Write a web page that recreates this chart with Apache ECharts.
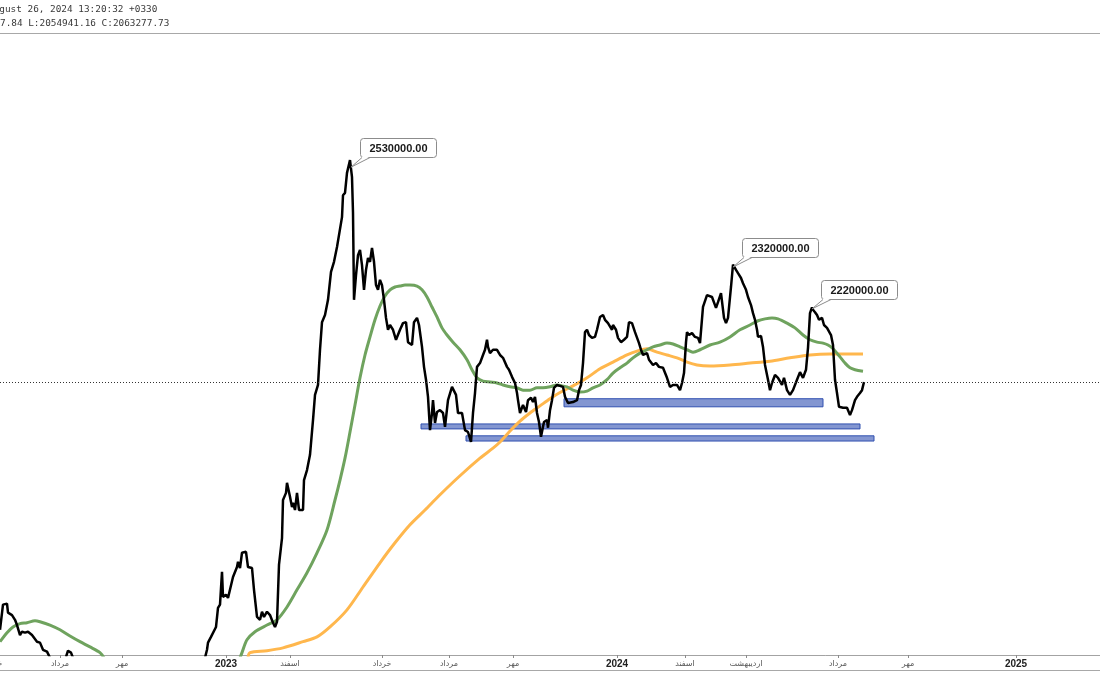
<!DOCTYPE html>
<html>
<head>
<meta charset="utf-8">
<script src="https://cdn.jsdelivr.net/npm/echarts@6.0.0/dist/echarts.min.js"></script>
<style>
html,body{margin:0;padding:0;background:#fff;}
#chart{width:1100px;height:700px;}
</style>
</head>
<body>
<div id="chart"></div>
<script>
// x = session index (bar), y = index value
const closeData = [
[0,1542000],[1.5,1595000],[3.5,1597000],[4,1578000],[6,1573000],[7.5,1563000],[8.5,1552000],[10,1531000],[11,1538000],[12.5,1536000],[14,1538000],[16,1531000],[18.5,1517000],[20,1515000],[21.5,1500000],[23.5,1496000],[24.5,1492000],[25.5,1479000],
[29,null],
[33,1485000],[34,1498000],[35.5,1494000],[36.5,1483000],
[60,null],
[102.5,1483000],[103.5,1500000],[104,1515000],[105.5,1527000],[106.5,1523000],[108,1548000],[109,1588000],[110,1595000],[111,1664000],[111.5,1611000],[113,1616000],[114,1609000],[115,1605000],[116.5,1653000],[118.5,1674000],[119,1685000],[120,1672000],[121,1704000],[123,1706000],[124,1674000],[126,1672000],[127,1626000],[128.5,1569000],[130,1563000],[131,1580000],[132,1569000],[133.5,1580000],[135,1573000],[136.5,1557000],[137.5,1548000],[138.5,1559000],[139.5,1679000],[141,1735000],[141.5,1815000],[143,1830000],[143.5,1851000],[145,1822000],[146,1800000],[146.5,1809000],[147.5,1794000],[148.5,1830000],[149.5,1794000],[151.5,1794000],[152,1857000],[153.5,1878000],[155,1910000],[156.5,1983000],[157.5,2036000],[159,2057000],[160,2131000],[161,2189000],[162.5,2204000],[164,2236000],[165.5,2295000],[167,2316000],[168.5,2347000],[169.5,2351000],[171,2410000],[171.5,2456000],[172.5,2461000],[173.5,2503000],[174,2505000],[175,2530000],[176,2494000],[176.5,2419000],[177,2236000],[178,2288000],[179,2330000],[180,2341000],[181,2309000],[182,2257000],[183,2299000],[184,2324000],[185,2316000],[186,2345000],[187,2316000],[188,2267000],[189,2257000],[190,2278000],[191,2267000],[192,2236000],[193,2198000],[194,2173000],[195,2183000],[196.5,2173000],[198,2152000],[199,2156000],[200,2173000],[201.5,2187000],[203,2189000],[204,2147000],[206,2141000],[207,2189000],[208.5,2198000],[209.5,2183000],[211,2137000],[212,2095000],[213,2068000],[214,2032000],[215,1962000],[216,1998000],[216.5,2025000],[217.5,1977000],[218.5,2000000],[220,2004000],[221.5,1998000],[222.5,1969000],[224,2025000],[226,2053000],[226.5,2051000],[228,2036000],[229,1998000],[231,1998000],[232.5,1962000],[234,1958000],[235.5,1937000],[236.5,1998000],[237.5,2040000],[238.5,2095000],[240,2103000],[241.5,2120000],[242.5,2131000],[243.5,2152000],[244,2137000],[245,2124000],[246.5,2131000],[248.5,2131000],[250,2120000],[251.5,2114000],[253.5,2095000],[254.5,2089000],[256,2074000],[257.5,2061000],[258.5,2040000],[259,2025000],[260,1998000],[261.5,2015000],[263,2000000],[264,2025000],[265.5,2030000],[266.5,2021000],[267.5,2032000],[268.5,1998000],[269.5,1979000],[270.5,1948000],[271.5,1969000],[272,1979000],[273.5,1983000],[274,1967000],[275,2004000],[276,2025000],[277,2051000],[278.5,2057000],[280,2055000],[281.5,2053000],[282.5,2032000],[284,2019000],[286.5,2021000],[288.5,2025000],[289.5,2046000],[290.5,2057000],[291.5,2103000],[292.5,2168000],[293.5,2173000],[294.5,2162000],[296,2156000],[297.5,2158000],[298.5,2173000],[300,2200000],[301.5,2204000],[302.5,2194000],[304,2187000],[306,2173000],[306.5,2183000],[308,2173000],[309,2156000],[310.5,2147000],[312,2152000],[313.5,2158000],[314.5,2189000],[316,2187000],[317.5,2168000],[318.5,2168000],[319.5,2145000],[320.5,2131000],[321.5,2120000],[323.5,2124000],[324.5,2110000],[326.5,2099000],[328,2103000],[329.5,2095000],[331.5,2093000],[333.5,2072000],[335,2053000],[336.5,2057000],[338.5,2057000],[340,2046000],[341,2061000],[342,2082000],[343,2147000],[343.5,2168000],[344.5,2162000],[346,2166000],[347.5,2158000],[349,2156000],[350,2145000],[351.5,2221000],[353.5,2246000],[354.5,2250000],[356,2242000],[357,2246000],[358,2219000],[359,2231000],[360.5,2250000],[361.5,2252000],[362,2198000],[363,2187000],[364,2198000],[365.5,2263000],[366.5,2310000],[368,2299000],[369,2292000],[370.5,2282000],[371.5,2271000],[373,2257000],[374,2242000],[375.5,2225000],[376.5,2208000],[377.5,2194000],[378.5,2173000],[379,2158000],[380.5,2160000],[381.5,2137000],[382.5,2099000],[384,2068000],[385,2046000],[386,2061000],[387.5,2078000],[389,2072000],[390,2068000],[391,2057000],[392,2072000],[393.5,2046000],[395,2036000],[396.5,2046000],[398.5,2068000],[400,2084000],[401.5,2072000],[403,2089000],[404,2135000],[405,2208000],[406,2220000],[406.5,2215000],[407.5,2210000],[408.5,2204000],[409.5,2194000],[411,2198000],[412,2183000],[413.5,2177000],[414,2173000],[415.5,2162000],[416.5,2141000],[417.5,2068000],[418.5,2040000],[419.5,2011000],[421.5,2009000],[423.5,2009000],[425,1994000],[426,2004000],[427.5,2025000],[428.5,2032000],[430,2040000],[431,2046000],[432,2063277.73]
];

const maFastData = [
[0,1517000],[3.5,1536000],[6.5,1548000],[10,1555000],[13.5,1557000],[17.5,1561000],[20,1559000],[25,1552000],[30,1542000],[35,1529000],[40,1517000],[45,1506000],[50,1494000],[52,1483000],
[80,null],
[120,1483000],[121,1494000],[123.5,1521000],[127.5,1538000],[133.5,1552000],[138.5,1563000],[143.5,1590000],[148.5,1626000],[153.5,1662000],[158.5,1704000],[163.5,1752000],[167.5,1815000],[170,1857000],[172.5,1903000],[175,1958000],[177.5,2015000],[180,2072000],[182.5,2120000],[185,2158000],[187.5,2194000],[190,2223000],[192.5,2244000],[195,2257000],[197.5,2263000],[200,2265000],[202.5,2267000],[205,2267000],[208.5,2265000],[211,2257000],[213.5,2242000],[216,2221000],[218.5,2200000],[221,2177000],[223.5,2162000],[226.5,2147000],[230,2131000],[233.5,2110000],[236,2089000],[238.5,2072000],[241.5,2065000],[245,2063000],[248.5,2061000],[251.5,2057000],[255,2053000],[258.5,2051000],[261.5,2046000],[265,2046000],[268.5,2051000],[271.5,2051000],[275,2053000],[278.5,2057000],[281,2055000],[283.5,2053000],[286.5,2046000],[290,2042000],[293.5,2044000],[296.5,2051000],[300,2057000],[303.5,2068000],[306.5,2082000],[310,2093000],[313.5,2103000],[316.5,2114000],[320,2124000],[323.5,2131000],[326.5,2137000],[330,2141000],[333.5,2145000],[336.5,2143000],[340,2137000],[343.5,2131000],[346.5,2126000],[350,2131000],[355,2141000],[360,2147000],[365,2158000],[370,2173000],[375,2183000],[379,2192000],[382.5,2196000],[386,2198000],[389,2196000],[393.5,2187000],[397.5,2177000],[401.5,2162000],[405,2152000],[408.5,2147000],[411.5,2145000],[414,2141000],[416.5,2133000],[420,2116000],[422.5,2103000],[425,2093000],[427.5,2089000],[431.5,2086000]
];

const maSlowData = [
[124,1483000],[125,1494000],[133.5,1498000],[141.5,1504000],[151.5,1517000],[158.5,1527000],[165,1548000],[173.5,1584000],[181.5,1632000],[190,1683000],[197.5,1725000],[205,1763000],[212.5,1794000],[220,1826000],[230,1866000],[240,1903000],[246.5,1924000],[250,1937000],[255,1960000],[260,1981000],[265,1998000],[270,2013000],[275,2028000],[280,2041000],[286.5,2055000],[293.5,2072000],[300,2091000],[306.5,2105000],[313.5,2120000],[318.5,2128000],[323.5,2133000],[328.5,2126000],[333.5,2120000],[338.5,2114000],[343.5,2105000],[348.5,2099000],[355,2097000],[365,2099000],[375,2103000],[385,2107000],[395,2114000],[405,2120000],[415,2122000],[425,2122000],[431.5,2122000]
];

// support zones
const zoneStart = [282, 210.5, 233];
const zoneEnd   = [411.5, 430, 437];
const zoneLow   = [2011000, 1964500, 1939000];
const zoneHigh  = [2028000, 1975000, 1950000];

// price notes
const noteBar   = [175.5, 366.5, 406];
const noteValue = [2515000, 2305000, 2217000];
const noteText  = ['2530000.00', '2320000.00', '2220000.00'];

const lastClose = 2063277.73;

// x axis ticks
const tickBars  = [30, 61, 113, 145, 191, 224.5, 256.5, 308.5, 342.5, 373, 419, 454, 508];
const tickTexts = ['مرداد','مهر','2023','اسفند','خرداد','مرداد','مهر','2024','اسفند','اردیبهشت','مرداد','مهر','2025'];

const headerLine1 = 'August 26, 2024 13:20:32 +0330';
const headerLine2 = '7.84 L:2054941.16 C:2063277.73';

const chart = echarts.init(document.getElementById('chart'), null, {renderer: 'canvas'});

const option = {
  animation: false,
  backgroundColor: '#ffffff',
  grid: {left: 0, right: 0, top: 35, bottom: 45, containLabel: false},
  xAxis: {
    type: 'value', min: 0, max: 550,
    splitLine: {show: false},
    axisLine: {show: true, onZero: false, lineStyle: {color: '#a3a3a3', width: 1}},
    axisTick: {show: true, customValues: tickBars, length: 3, lineStyle: {color: '#8a8a8a'}},
    axisLabel: {
      show: true, customValues: tickBars, margin: 3,
      formatter: function (v) {
        const i = tickBars.indexOf(v);
        if (i < 0) return '';
        const t = tickTexts[i];
        return /^\d+$/.test(t) ? '{y|' + t + '}' : '{m|' + t + '}';
      },
      rich: {
        y: {fontFamily: '"Liberation Sans", Arial, sans-serif', fontWeight: 'bold', fontSize: 10, color: '#222', lineHeight: 12},
        m: {fontFamily: '"DejaVu Sans", sans-serif', fontSize: 8, color: '#555', lineHeight: 12}
      }
    }
  },
  yAxis: {type: 'value', min: 1489000, max: 2793000, show: false, splitLine: {show: false}},
  series: [
    {
      name: 'MA slow', type: 'line', data: maSlowData, showSymbol: false, z: 2, smooth: 0.3,
      lineStyle: {color: '#ffb74d', width: 3}, silent: true, clip: true
    },
    {
      name: 'MA fast', type: 'line', data: maFastData, showSymbol: false, z: 3, smooth: 0.3,
      lineStyle: {color: '#6fa35e', width: 3}, silent: true, clip: true,
      markArea: {
        silent: true,
        itemStyle: {color: 'rgba(96,120,196,0.78)', borderColor: '#3150b0', borderWidth: 1},
        data: zoneStart.map((s, i) => [{xAxis: s, yAxis: zoneLow[i]}, {xAxis: zoneEnd[i], yAxis: zoneHigh[i]}])
      }
    },
    {
      name: 'Close', type: 'line', data: closeData, showSymbol: false, z: 4,
      connectNulls: false, clip: true, silent: true,
      lineStyle: {color: '#000000', width: 2.5},
      markLine: {
        silent: true, symbol: ['none', 'none'],
        label: {show: false},
        lineStyle: {color: '#333', width: 1, type: [1, 2]},
        data: [{yAxis: lastClose}]
      }
    },
    {
      name: 'notes', type: 'custom', z: 10, silent: true, clip: false,
      data: noteBar.map((b, i) => [b, noteValue[i]]),
      renderItem: function (params, api) {
        const p = api.coord([api.value(0), api.value(1)]);
        const w = 76, h = 19;
        const bx = Math.round(p[0] + 9), by = Math.round(p[1] - 10 - h);
        const t = noteText[params.dataIndex];
        return {
          type: 'group',
          children: [
            {type: 'rect', shape: {x: bx + 0.5, y: by + 0.5, width: w, height: h, r: 3},
             style: {fill: '#ffffff', stroke: '#8c8c8c', lineWidth: 1}},
            {type: 'polygon', shape: {points: [[p[0], p[1]], [bx + 2, by + h - 0.5], [bx + 10, by + h - 0.5]]},
             style: {fill: '#ffffff', stroke: null}},
            {type: 'polyline', shape: {points: [[bx + 2, by + h + 0.5], [p[0], p[1]], [bx + 10, by + h + 0.5]]},
             style: {fill: null, stroke: '#8c8c8c', lineWidth: 1}},
            {type: 'text', style: {text: t, x: bx + w / 2 + 0.5, y: by + h / 2 + 1,
              align: 'center', verticalAlign: 'middle', textAlign: 'center', textVerticalAlign: 'middle',
              font: 'bold 11px "Liberation Sans", Arial, sans-serif', fill: '#1a1a1a'}}
          ]
        };
      }
    }
  ],
  graphic: [
    {type: 'text', left: -12, top: 5, silent: true,
     style: {text: headerLine1, font: '9.4px "DejaVu Sans Mono", monospace', fill: '#3a3a3a'}},
    {type: 'text', left: 0, top: 19, silent: true,
     style: {text: headerLine2, font: '9.4px "DejaVu Sans Mono", monospace', fill: '#3a3a3a'}},
    {type: 'line', silent: true, shape: {x1: 0, y1: 33.5, x2: 1100, y2: 33.5}, style: {stroke: '#a8a8a8', lineWidth: 1}},
    {type: 'line', silent: true, shape: {x1: 0, y1: 670.5, x2: 1100, y2: 670.5}, style: {stroke: '#a8a8a8', lineWidth: 1}},
    {type: 'text', silent: true, x: -7, y: 664,
     style: {text: 'خرداد', font: '8px "DejaVu Sans", sans-serif', fill: '#555', align: 'center', verticalAlign: 'middle', textAlign: 'center', textVerticalAlign: 'middle'}}
  ]
};

chart.setOption(option);
</script>
</body>
</html>
